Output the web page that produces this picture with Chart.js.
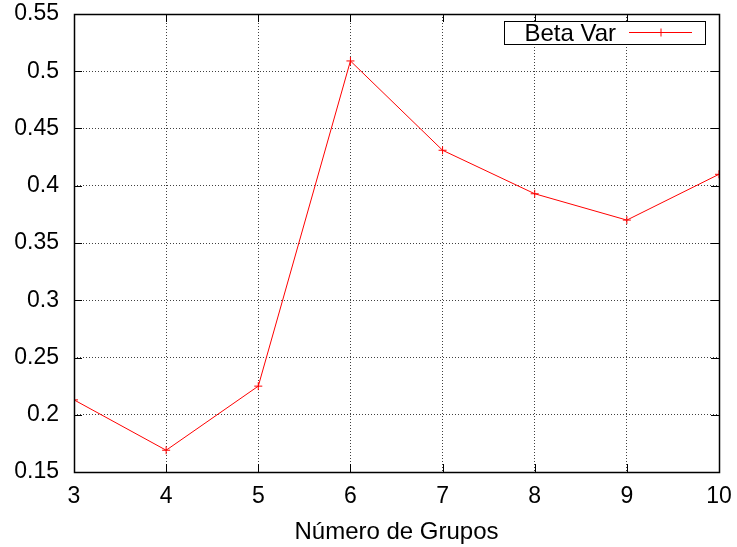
<!DOCTYPE html>
<html>
<head>
<meta charset="utf-8">
<script src="https://cdn.jsdelivr.net/npm/chart.js@4/dist/chart.umd.min.js"></script>
<style>
  html, body { margin: 0; padding: 0; background: #fff; }
  #wrap { width: 737px; height: 547px; }
</style>
</head>
<body>
<div id="wrap"><canvas id="grafico"></canvas></div>
<script>
// numero de grupos vs. beta var
const grupos = [3, 4, 5, 6, 7, 8, 9, 10];
const betaVar = [0.213, 0.169, 0.225, 0.509, 0.431, 0.393, 0.370, 0.410];
const serieLabel = 'Beta Var';
const ejeXTitulo = 'Número de Grupos';
const yMin = 0.15, yMax = 0.55, yPaso = 0.05;
const xMin = 3, xMax = 10, xPaso = 1;

const FONT = '"Liberation Sans", Arial, Helvetica, sans-serif';
const ROJO = '#ff0000';
const GRID = 'rgba(0,0,0,0.75)';

// borde, ticks hacia adentro y leyenda al estilo gnuplot
const marco = {
  id: 'marco',
  afterDatasetsDraw(chart) {
    const { ctx, chartArea: a, scales } = chart;
    const tick = 8;
    ctx.save();
    ctx.strokeStyle = '#000';
    ctx.lineWidth = 1;
    ctx.beginPath();
    scales.y.ticks.forEach(t => {
      const y = Math.round(scales.y.getPixelForValue(t.value)) + 0.5;
      ctx.moveTo(a.left, y); ctx.lineTo(a.left + tick, y);
      ctx.moveTo(a.right, y); ctx.lineTo(a.right - tick, y);
    });
    scales.x.ticks.forEach(t => {
      const x = Math.round(scales.x.getPixelForValue(t.value)) + 0.5;
      ctx.moveTo(x, a.bottom); ctx.lineTo(x, a.bottom - tick);
      ctx.moveTo(x, a.top); ctx.lineTo(x, a.top + tick);
    });
    ctx.stroke();
    ctx.lineWidth = 1.5;
    ctx.strokeRect(Math.round(a.left) + 0.5, Math.round(a.top) + 0.5,
      Math.round(a.right - a.left), Math.round(a.bottom - a.top));

    // leyenda
    const bx = 504.5, by = 21.5, bw = 201, bh = 23;
    ctx.lineWidth = 1;
    ctx.fillStyle = '#fff';
    ctx.fillRect(bx, by, bw, bh);
    ctx.strokeRect(bx, by, bw, bh);
    ctx.fillStyle = '#000';
    ctx.font = '24px ' + FONT;
    ctx.textAlign = 'right';
    ctx.textBaseline = 'middle';
    ctx.fillText(serieLabel, 616, by + bh / 2 + 1);
    const ly = 32.5;
    ctx.strokeStyle = ROJO;
    ctx.beginPath();
    ctx.moveTo(629, ly); ctx.lineTo(692, ly);
    ctx.moveTo(661, ly - 4); ctx.lineTo(661, ly + 4);
    ctx.stroke();
    ctx.restore();
  }
};

new Chart(document.getElementById('grafico'), {
  type: 'line',
  data: {
    datasets: [{
      label: serieLabel,
      data: grupos.map((g, i) => ({ x: g, y: betaVar[i] })),
      borderColor: ROJO,
      backgroundColor: ROJO,
      borderWidth: 1,
      pointStyle: 'cross',
      pointRadius: 4,
      pointBorderWidth: 1,
      pointHoverRadius: 4,
      tension: 0,
      fill: false
    }]
  },
  options: {
    responsive: true,
    maintainAspectRatio: false,
    animation: false,
    devicePixelRatio: 1,
    layout: { padding: { left: 0, top: 14, right: 18, bottom: 0 } },
    plugins: {
      legend: { display: false },
      tooltip: { enabled: false }
    },
    scales: {
      x: {
        type: 'linear',
        min: xMin,
        max: xMax,
        border: { display: false, dash: [1, 2] },
        grid: { color: GRID, drawTicks: false },
        ticks: {
          stepSize: xPaso,
          color: '#000',
          padding: 11,
          font: { family: FONT, size: 23 },
          maxRotation: 0
        },
        title: {
          display: true,
          text: ejeXTitulo,
          color: '#000',
          font: { family: FONT, size: 24 },
          padding: { top: 0, bottom: 0 }
        },
        afterFit(scale) {
          scale.height = 75;
          scale.paddingLeft = 0;
          scale.paddingRight = 0;
        }
      },
      y: {
        min: yMin,
        max: yMax,
        border: { display: false, dash: [1, 2] },
        grid: { color: GRID, drawTicks: false },
        ticks: {
          stepSize: yPaso,
          color: '#000',
          padding: 15,
          font: { family: FONT, size: 23 },
          callback: v => String(+v.toFixed(2))
        },
        afterFit(scale) {
          scale.width = 74;
          scale.paddingTop = 0;
          scale.paddingBottom = 0;
        }
      }
    }
  },
  plugins: [marco]
});
</script>
</body>
</html>
